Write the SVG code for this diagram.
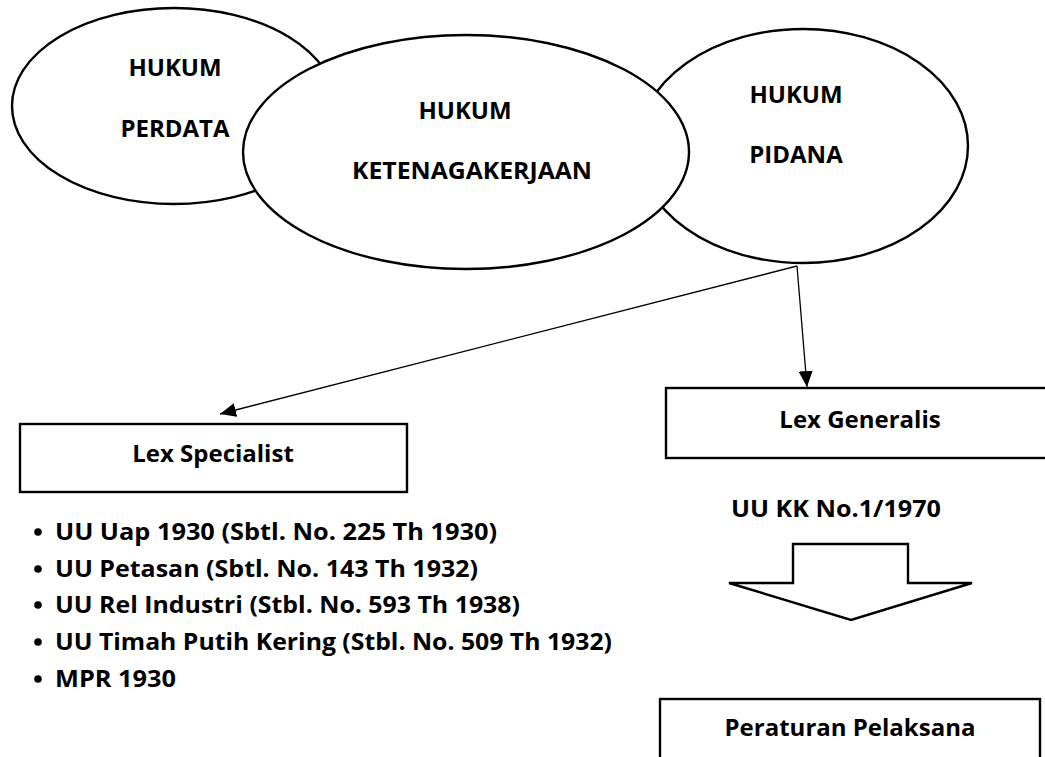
<svg xmlns="http://www.w3.org/2000/svg" width="1045" height="757" viewBox="0 0 1045 757">
<style>
.e{fill:#fff;stroke:#000;stroke-width:2.4}
.r{fill:#fff;stroke:#000;stroke-width:2.4}
.t{font-family:"Open Sans","Noto Sans",sans-serif;font-weight:bold;font-size:24px;fill:#000}
.c{text-anchor:middle}
.ln{stroke:#000;stroke-width:1.3;fill:none}
</style>
<defs>
<marker id="ah" viewBox="0 0 16 14" refX="16" refY="7" markerWidth="16" markerHeight="14" markerUnits="userSpaceOnUse" orient="auto">
<path d="M0,0 L16,7 L0,14 Z" fill="#000"/>
</marker>
</defs>
<g id="hukum-perdata">
<ellipse class="e" cx="174" cy="106" rx="162" ry="98"/>
<text class="t c" x="175" y="76">HUKUM</text>
<text class="t c" x="175" y="137">PERDATA</text>
</g>
<g id="hukum-pidana">
<ellipse class="e" cx="803" cy="146" rx="165" ry="117"/>
<text class="t c" x="796" y="103">HUKUM</text>
<text class="t c" x="796" y="163">PIDANA</text>
</g>
<g id="hukum-ketenagakerjaan">
<ellipse class="e" cx="466" cy="152" rx="223" ry="117"/>
<text class="t c" x="465" y="119">HUKUM</text>
<text class="t c" x="472" y="179" textLength="240" lengthAdjust="spacingAndGlyphs">KETENAGAKERJAAN</text>
</g>
<g id="connectors">
<line class="ln" x1="797" y1="266" x2="220" y2="414" marker-end="url(#ah)"/>
<line class="ln" x1="797" y1="266" x2="807" y2="387" marker-end="url(#ah)"/>
</g>
<g id="lex-specialist">
<rect class="r" x="20" y="424" width="387" height="68"/>
<text class="t c" x="213" y="462">Lex Specialist</text>
</g>
<g id="lex-specialist-list">
<circle cx="38" cy="532" r="3.8"/>
<text class="t" x="55" y="540" textLength="442" lengthAdjust="spacingAndGlyphs">UU Uap 1930 (Sbtl. No. 225 Th 1930)</text>
<circle cx="38" cy="569" r="3.8"/>
<text class="t" x="55" y="577" textLength="423" lengthAdjust="spacingAndGlyphs">UU Petasan (Sbtl. No. 143 Th 1932)</text>
<circle cx="38" cy="605" r="3.8"/>
<text class="t" x="55" y="613" textLength="465" lengthAdjust="spacingAndGlyphs">UU Rel Industri (Stbl. No. 593 Th 1938)</text>
<circle cx="38" cy="642" r="3.8"/>
<text class="t" x="55" y="650" textLength="557" lengthAdjust="spacingAndGlyphs">UU Timah Putih Kering (Stbl. No. 509 Th 1932)</text>
<circle cx="38" cy="679" r="3.8"/>
<text class="t" x="55" y="687" textLength="121" lengthAdjust="spacingAndGlyphs">MPR 1930</text>
</g>
<g id="lex-generalis">
<rect class="r" x="666" y="388" width="390" height="70"/>
<text class="t c" x="860" y="428">Lex Generalis</text>
</g>
<g id="uu-kk">
<text class="t c" x="836" y="517" textLength="210" lengthAdjust="spacingAndGlyphs">UU KK No.1/1970</text>
</g>
<g id="block-arrow">
<polygon class="r" points="793,544 908,544 908,583 972,583 851,620 729,583 793,583"/>
</g>
<g id="peraturan-pelaksana">
<rect class="r" x="660" y="699" width="380" height="70"/>
<text class="t c" x="850" y="736">Peraturan Pelaksana</text>
</g>
</svg>
